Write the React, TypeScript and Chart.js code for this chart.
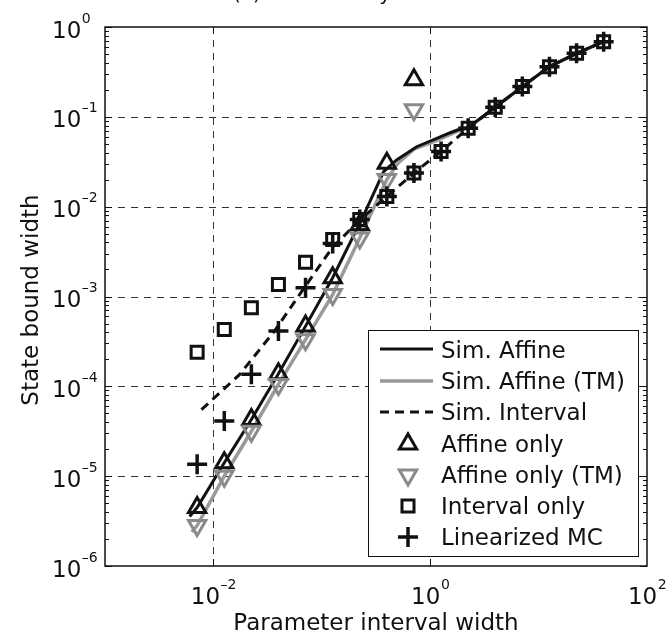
import React, { useEffect, useRef } from "react";
import { Chart, registerables } from "chart.js";

Chart.register(...registerables);

// ---- data ----
const xWidths = [0.00708, 0.0126, 0.0224, 0.0398, 0.0708, 0.126, 0.224, 0.398, 0.708, 1.26, 2.24, 3.98, 7.08, 12.6, 22.4, 39.8];
const affineOnly = [4.47e-6, 1.41e-5, 4.27e-5, 1.38e-4, 4.68e-4, 1.62e-3, 6.31e-3, 0.0305, 0.258];
const affineOnlyTM = [2.82e-6, 1.0e-5, 3.16e-5, 1.05e-4, 3.31e-4, 1.05e-3, 4.47e-3, 0.02, 0.12];
const intervalOnly = [2.4e-4, 4.3e-4, 7.48e-4, 1.36e-3, 2.4e-3, 4.3e-3, 7.18e-3, 0.013, 0.0237, 0.0412, 0.0748, 0.128, 0.217, 0.362, 0.509, 0.687];
const linearizedMC = [1.36e-5, 4.12e-5, 1.36e-4, 4.12e-4, 1.25e-3, 3.9e-3, 7.18e-3, 0.013, 0.0237, 0.0412, 0.0748, 0.128, 0.217, 0.362, 0.509, 0.687];

const simAffineX = [0.00603, 0.00708, 0.0126, 0.0224, 0.0398, 0.0708, 0.126, 0.24, 0.372, 0.49, 0.75, 1.15, 1.51, 1.78, 2.24, 3.98, 7.08, 12.6, 22.4, 39.8];
const simAffineY = [3.55e-6, 4.47e-6, 1.41e-5, 4.27e-5, 1.38e-4, 4.68e-4, 1.62e-3, 7.76e-3, 0.0245, 0.0331, 0.0465, 0.0575, 0.0661, 0.0713, 0.0764, 0.128, 0.217, 0.362, 0.509, 0.687];
const simAffineTMX = [0.00631, 0.00708, 0.0126, 0.0224, 0.0398, 0.0708, 0.126, 0.224, 0.398, 0.501, 0.708, 1.17, 1.78, 2.24, 3.98, 7.08, 12.6, 22.4, 39.8];
const simAffineTMY = [2.4e-6, 2.82e-6, 1.0e-5, 3.16e-5, 1.05e-4, 3.31e-4, 1.05e-3, 4.47e-3, 0.02, 0.0302, 0.0437, 0.055, 0.0692, 0.0748, 0.128, 0.217, 0.362, 0.509, 0.687];
const simIntervalX = [0.00776, 0.0174, 0.0363, 0.0692, 0.126, 0.224, 0.398, 0.708, 1.26, 2.24, 3.98, 7.08, 12.6, 22.4, 39.8];
const simIntervalY = [5.5e-5, 1.35e-4, 4.07e-4, 1.26e-3, 3.55e-3, 7.08e-3, 0.013, 0.0237, 0.0412, 0.0748, 0.128, 0.217, 0.362, 0.509, 0.687];

const xTickExps = [-2, 0, 2];
const yTickExps = [-6, -5, -4, -3, -2, -1, 0];
const legendLabels = ["Sim. Affine", "Sim. Affine (TM)", "Sim. Interval", "Affine only", "Affine only (TM)", "Interval only", "Linearized MC"];
const titleText = "(a) Bounds on y";
const xTitle = "Parameter interval width";
const yTitle = "State bound width";

const BLACK = "#111111";
const GRAY_M = "#8a8a8a";
const GRAY_L = "#9a9a9a";
const FONT = '"DejaVu Sans", sans-serif';

function pts(xs: number[], ys: number[]) {
  return ys.map((v, i) => ({ x: xs[i], y: v }));
}

function drawMarker(ctx: CanvasRenderingContext2D, style: string, x: number, y: number, r: number, rot: number) {
  ctx.beginPath();
  if (style === "triangle") {
    let rad = (rot * Math.PI) / 180;
    ctx.moveTo(x + Math.sin(rad) * r, y - Math.cos(rad) * r);
    rad += (2 * Math.PI) / 3;
    ctx.lineTo(x + Math.sin(rad) * r, y - Math.cos(rad) * r);
    rad += (2 * Math.PI) / 3;
    ctx.lineTo(x + Math.sin(rad) * r, y - Math.cos(rad) * r);
    ctx.closePath();
  } else if (style === "rect") {
    const s = Math.SQRT1_2 * r;
    ctx.rect(x - s, y - s, 2 * s, 2 * s);
  } else if (style === "cross") {
    ctx.moveTo(x, y + r);
    ctx.lineTo(x, y - r);
    ctx.moveTo(x - r, y);
    ctx.lineTo(x + r, y);
  }
  ctx.stroke();
}

const matlabPlugin = {
  id: "matlabLook",
  beforeDatasetsDraw(chart: any) {
    const ctx: CanvasRenderingContext2D = chart.ctx;
    const { left, right, top, bottom } = chart.chartArea;
    const xs = chart.scales.x;
    const ys = chart.scales.y;
    ctx.save();
    ctx.fillStyle = "#ffffff";
    ctx.fillRect(left, top, right - left, bottom - top);
    ctx.strokeStyle = "#333333";
    ctx.lineWidth = 1;
    ctx.setLineDash([7, 6]);
    for (const e of [-2, 0]) {
      const px = Math.round(xs.getPixelForValue(Math.pow(10, e))) + 0.5;
      ctx.beginPath();
      ctx.moveTo(px, top);
      ctx.lineTo(px, bottom);
      ctx.stroke();
    }
    for (const e of [-5, -4, -3, -2, -1]) {
      const py = Math.round(ys.getPixelForValue(Math.pow(10, e))) + 0.5;
      ctx.beginPath();
      ctx.moveTo(left, py);
      ctx.lineTo(right, py);
      ctx.stroke();
    }
    ctx.restore();
  },
  afterDatasetsDraw(chart: any) {
    const ctx: CanvasRenderingContext2D = chart.ctx;
    const { left, right, top, bottom } = chart.chartArea;
    const xs = chart.scales.x;
    const ys = chart.scales.y;
    ctx.save();
    ctx.setLineDash([]);
    ctx.strokeStyle = BLACK;
    // ticks
    ctx.lineWidth = 1;
    for (let e = -6; e <= 0; e++) {
      const py = Math.round(ys.getPixelForValue(Math.pow(10, e))) + 0.5;
      ctx.beginPath();
      ctx.moveTo(left, py); ctx.lineTo(left + 7, py);
      ctx.moveTo(right, py); ctx.lineTo(right - 7, py);
      ctx.stroke();
      if (e < 0) {
        for (let m = 2; m <= 9; m++) {
          const q = Math.round(ys.getPixelForValue(m * Math.pow(10, e))) + 0.5;
          ctx.beginPath();
          ctx.moveTo(left, q); ctx.lineTo(left + 4, q);
          ctx.moveTo(right, q); ctx.lineTo(right - 4, q);
          ctx.stroke();
        }
      }
    }
    for (const e of [-2, 0]) {
      const px = Math.round(xs.getPixelForValue(Math.pow(10, e))) + 0.5;
      ctx.beginPath();
      ctx.moveTo(px, bottom); ctx.lineTo(px, bottom - 7);
      ctx.moveTo(px, top); ctx.lineTo(px, top + 7);
      ctx.stroke();
    }
    // frame
    ctx.lineWidth = 1.5;
    ctx.strokeRect(left, top, right - left, bottom - top);

    // tick labels
    ctx.fillStyle = BLACK;
    ctx.textBaseline = "alphabetic";
    ctx.textAlign = "left";
    const expStr = (e: number) => (e < 0 ? "\u2013" + Math.abs(e) : String(e));
    for (const e of yTickExps) {
      const py = ys.getPixelForValue(Math.pow(10, e));
      ctx.font = `23px ${FONT}`;
      ctx.fillText("10", 52, py + 10.5);
      const w = ctx.measureText("10").width;
      ctx.font = `14px ${FONT}`;
      ctx.fillText(expStr(e), 52 + w + 0.5, py - 4.5);
    }
    for (const e of xTickExps) {
      const px = xs.getPixelForValue(Math.pow(10, e));
      ctx.font = `23px ${FONT}`;
      const w10 = ctx.measureText("10").width;
      ctx.font = `14px ${FONT}`;
      const we = ctx.measureText(expStr(e)).width;
      const x0 = px - (w10 + we) / 2;
      ctx.font = `23px ${FONT}`;
      ctx.fillText("10", x0, 604);
      ctx.font = `14px ${FONT}`;
      ctx.fillText(expStr(e), x0 + w10 + 0.5, 589);
    }
    // axis titles
    ctx.font = `23px ${FONT}`;
    ctx.textAlign = "center";
    ctx.fillText(xTitle, (left + right) / 2, 630);
    ctx.save();
    ctx.translate(38, 300);
    ctx.rotate(-Math.PI / 2);
    ctx.fillText(yTitle, 0, 0);
    ctx.restore();
    // title (cropped at the top edge)
    ctx.font = `20px ${FONT}`;
    ctx.textAlign = "left";
    ctx.fillText(titleText, 233, -0.5);

    // legend
    const bx = 368.5, by = 330.5, bw = 270, bh = 226;
    ctx.fillStyle = "#ffffff";
    ctx.fillRect(bx, by, bw, bh);
    ctx.lineWidth = 1;
    ctx.strokeStyle = BLACK;
    ctx.strokeRect(bx, by, bw, bh);
    const rows = [350, 381, 412, 444, 475, 506, 537];
    const lx0 = 380, lx1 = 433, mx = 408;
    // line samples
    ctx.lineWidth = 3; ctx.strokeStyle = BLACK;
    ctx.beginPath(); ctx.moveTo(lx0, rows[0] - 1); ctx.lineTo(lx1, rows[0] - 1); ctx.stroke();
    ctx.lineWidth = 3.5; ctx.strokeStyle = GRAY_L;
    ctx.beginPath(); ctx.moveTo(lx0, rows[1]); ctx.lineTo(lx1, rows[1]); ctx.stroke();
    ctx.lineWidth = 3; ctx.strokeStyle = BLACK; ctx.setLineDash([9, 6]);
    ctx.beginPath(); ctx.moveTo(lx0, rows[2]); ctx.lineTo(lx1, rows[2]); ctx.stroke();
    ctx.setLineDash([]);
    // markers
    ctx.lineWidth = 3; ctx.strokeStyle = BLACK;
    drawMarker(ctx, "triangle", mx, rows[3], 10, 0);
    ctx.strokeStyle = GRAY_M;
    drawMarker(ctx, "triangle", mx, rows[4], 10, 180);
    ctx.strokeStyle = BLACK;
    drawMarker(ctx, "rect", mx, rows[5], 8.5, 0);
    ctx.lineWidth = 3.5;
    drawMarker(ctx, "cross", mx, rows[6], 10, 0);
    // texts
    ctx.fillStyle = BLACK;
    ctx.font = `23px ${FONT}`;
    ctx.textAlign = "left";
    legendLabels.forEach((t, i) => ctx.fillText(t, 441, rows[i] + 8));
    ctx.restore();
  },
};

export default function App() {
  const ref = useRef<HTMLCanvasElement>(null);
  useEffect(() => {
    const canvas = ref.current;
    if (!canvas) return;
    const markerBase = {
      showLine: false,
      borderWidth: 0,
      pointBackgroundColor: "rgba(0,0,0,0)",
      pointBorderWidth: 3,
      pointHoverRadius: 0,
    };
    const chart = new Chart(canvas, {
      type: "line",
      data: {
        datasets: [
          { ...markerBase, label: "Linearized MC", data: pts(xWidths, linearizedMC), pointStyle: "cross", pointRadius: 10, pointBorderWidth: 3.5, pointBorderColor: BLACK, borderColor: BLACK, order: 0 },
          { ...markerBase, label: "Interval only", data: pts(xWidths, intervalOnly), pointStyle: "rect", pointRadius: 8.5, pointBorderColor: BLACK, borderColor: BLACK, order: 1 },
          { ...markerBase, label: "Affine only (TM)", data: pts(xWidths, affineOnlyTM), pointStyle: "triangle", pointRotation: 180, pointRadius: 10, pointBorderColor: GRAY_M, borderColor: GRAY_M, order: 2 },
          { ...markerBase, label: "Affine only", data: pts(xWidths, affineOnly), pointStyle: "triangle", pointRadius: 10, pointBorderColor: BLACK, borderColor: BLACK, order: 3 },
          { label: "Sim. Interval", data: pts(simIntervalX, simIntervalY), borderColor: BLACK, borderWidth: 3, borderDash: [9, 6], pointRadius: 0, fill: false, order: 4 },
          { label: "Sim. Affine", data: pts(simAffineX, simAffineY), borderColor: BLACK, borderWidth: 3, pointRadius: 0, fill: false, order: 5 },
          { label: "Sim. Affine (TM)", data: pts(simAffineTMX, simAffineTMY), borderColor: GRAY_L, borderWidth: 3.5, pointRadius: 0, fill: false, order: 6 },
        ] as any,
      },
      options: {
        responsive: false,
        animation: false,
        devicePixelRatio: 1,
        events: [],
        layout: { padding: { left: 105, right: 21, top: 27, bottom: 73 } },
        plugins: { legend: { display: false }, tooltip: { enabled: false }, title: { display: false } },
        scales: {
          x: { type: "logarithmic", min: 1e-3, max: 1e2, display: false },
          y: { type: "logarithmic", min: 1e-6, max: 1, display: false },
        },
      } as any,
      plugins: [matlabPlugin as any],
    });
    return () => chart.destroy();
  }, []);
  return (
    <div style={{ position: "fixed", left: 0, top: 0, width: 668, height: 639, background: "#fff" }}>
      <canvas ref={ref} width={668} height={639} style={{ display: "block", width: 668, height: 639 }} />
    </div>
  );
}
